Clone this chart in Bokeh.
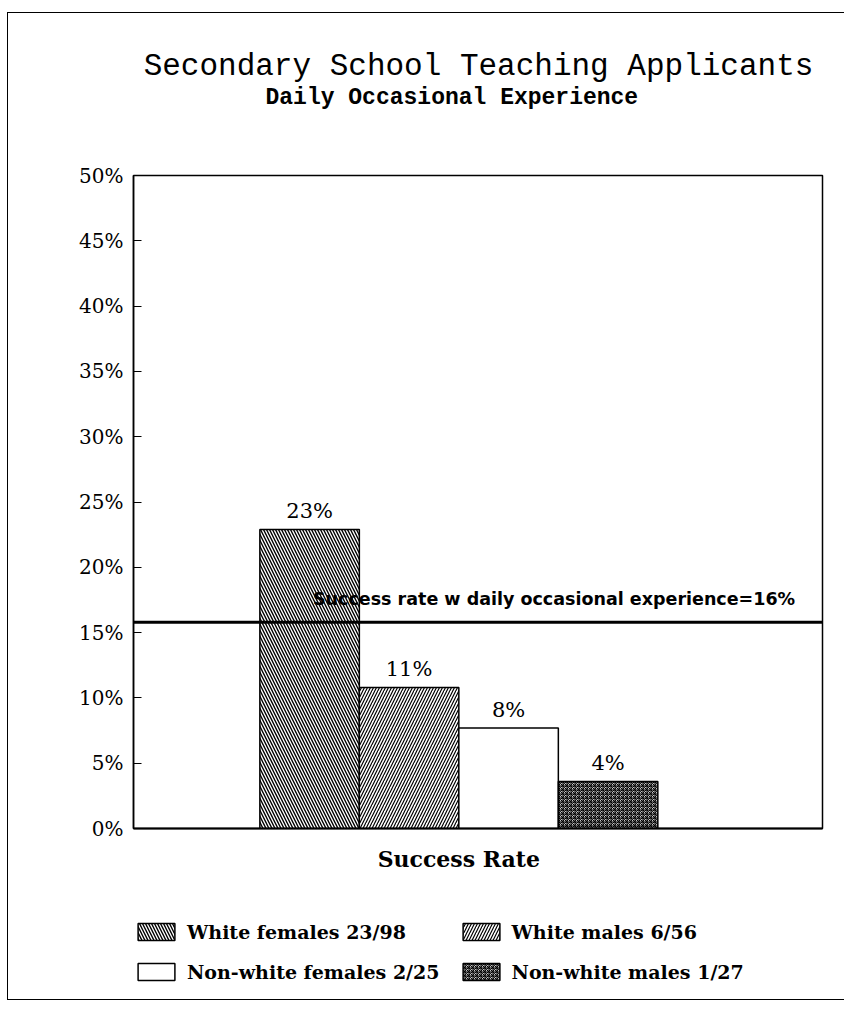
import numpy as np
from bokeh.plotting import figure
from bokeh.layouts import column
from bokeh.models import (ColumnDataSource, Range1d, FixedTicker, Span, Label,
                          LabelSet, Legend, LegendItem, InlineStyleSheet)
from bokeh.core.properties import value
from bokeh.embed import file_html
from bokeh.resources import INLINE

# ---- data ----
title_text = "Secondary School Teaching Applicants"
subtitle_text = "Daily Occasional Experience"
x_label = "Success Rate"
categories = ["White females", "White males", "Non-white females", "Non-white males"]
counts = ["23/98", "6/56", "2/25", "1/27"]
rates = [22.9, 10.8, 7.7, 3.6]
rate_labels = ["23%", "11%", "8%", "4%"]
overall_rate = 15.8
overall_text = "Success rate w daily occasional experience=16%"
y_ticks = [0, 5, 10, 15, 20, 25, 30, 35, 40, 45, 50]
y_tick_labels = ["0%", "5%", "10%", "15%", "20%", "25%", "30%", "35%", "40%", "45%", "50%"]

hatches = ["left_diagonal_line", "right_diagonal_line", "blank", "criss_cross"]
fills = ["white", "white", "white", "#c4c4c4"]
hscales = [6.0, 6.0, 6.0, 4.0]
hweights = [1.4, 1.2, 1.0, 1.0]

xpos = np.arange(len(categories)) + 2.0

src = ColumnDataSource(dict(x=xpos, top=rates, lab=rate_labels, hatch=hatches,
                            fill=fills, hs=hscales, hw=hweights,
                            legend=[f"{c} {n}" for c, n in zip(categories, counts)]))

common = dict(frame_width=689, min_border_left=133, min_border_right=6,
              output_backend="svg", toolbar_location=None)

# ---- header (titles); data units = page pixels ----
h = figure(frame_height=163, x_range=Range1d(133, 822), y_range=Range1d(163, 0),
           x_axis_type=None, y_axis_type=None, min_border_top=0, min_border_bottom=0,
           **common)
h.grid.visible = False
h.outline_line_color = None
h.add_layout(Label(x=478, y=66, text=title_text, text_align="center",
                   text_baseline="alphabetic", text_font="Liberation Mono",
                   text_font_size="31px", text_color="black"))
h.add_layout(Label(x=265, y=97, text=subtitle_text, text_align="left",
                   text_baseline="alphabetic", text_font="Liberation Mono",
                   text_font_style="bold", text_font_size="23px", text_color="black"))

# ---- main chart ----
p = figure(frame_height=653, min_border_top=12, min_border_bottom=50,
           x_range=Range1d(0.23, 7.155), y_range=Range1d(0, 50), **common)
p.grid.visible = False
p.outline_line_color = "black"
p.outline_line_width = 1.5
p.background_fill_color = "white"
p.border_fill_color = "white"

ya = p.yaxis[0]
ya.ticker = FixedTicker(ticks=y_ticks)
ya.major_label_overrides = {t: l for t, l in zip(y_ticks, y_tick_labels)}
ya.major_tick_in = 8
ya.major_tick_out = 0
ya.minor_tick_line_color = None
ya.major_label_standoff = 10
ya.axis_line_color = "black"
ya.axis_line_width = 1.5
ya.major_label_text_font = "DejaVu Serif"
ya.major_label_text_font_size = "20px"
ya.major_label_text_color = "black"

xc = float(np.mean(xpos))
xa = p.xaxis[0]
xa.ticker = FixedTicker(ticks=[xc])
xa.major_label_overrides = {xc: x_label}
xa.major_tick_line_color = None
xa.minor_tick_line_color = None
xa.axis_line_color = "black"
xa.axis_line_width = 2
xa.major_label_standoff = 11
xa.major_label_text_font = "DejaVu Serif"
xa.major_label_text_font_style = "bold"
xa.major_label_text_font_size = "22px"
xa.major_label_text_color = "black"

r = p.vbar(x="x", top="top", width=1.0, bottom=0, source=src,
           fill_color="fill", line_color="black", line_width=1.5,
           hatch_pattern="hatch", hatch_color="black", hatch_scale="hs",
           hatch_weight="hw")

p.add_layout(Span(location=overall_rate, dimension="width", line_color="black",
                  line_width=3))

p.add_layout(LabelSet(x="x", y="top", text="lab", source=src, text_align="center",
                      text_baseline="alphabetic", y_offset=11,
                      text_font=value("DejaVu Serif"), text_font_size=value("21px"),
                      text_color="black"))

p.add_layout(Label(x=6.88, y=overall_rate + 1.8, text=overall_text, text_align="right",
                   text_baseline="alphabetic", text_font="DejaVu Sans",
                   text_font_style="bold", text_font_size="17.5px", text_color="black"))

# ---- footer (legend) ----
f = figure(frame_height=122, x_range=Range1d(100, 101), y_range=Range1d(100, 101),
           x_axis_type=None, y_axis_type=None, min_border_top=0, min_border_bottom=0,
           **common)
f.grid.visible = False
f.outline_line_color = None
# same bar glyph (outside the footer's view), used only for the legend swatches
rf = f.vbar(x="x", top="top", width=1.0, bottom=0, source=src,
            fill_color="fill", line_color="black", line_width=1.5,
            hatch_pattern="hatch", hatch_color="black", hatch_scale="hs",
            hatch_weight="hw")
items = [LegendItem(label=lab, renderers=[rf], index=i)
         for i, lab in enumerate(src.data["legend"])]
legend = Legend(items=items, location=(0, 17.5), orientation="horizontal", ncols=2,
                glyph_width=46, glyph_height=21, label_standoff=8, label_height=21,
                spacing=18, padding=0, margin=0, border_line_color=None,
                background_fill_alpha=0, label_text_font="DejaVu Serif",
                label_text_font_style="bold", label_text_font_size="19px",
                label_text_color="black")
f.add_layout(legend, "center")

layout = column(h, p, f, spacing=0)
layout.stylesheets = [InlineStyleSheet(css="""
:host { position: relative; }
:host::after { content: ""; position: absolute; left: 7px; top: 12px; width: 900px;
  height: 986px; border-left: 1.5px solid black; border-top: 1.5px solid black;
  border-bottom: 1.5px solid black; pointer-events: none; z-index: 100; }
""")]

open("out.html", "w").write(file_html(layout, INLINE))
